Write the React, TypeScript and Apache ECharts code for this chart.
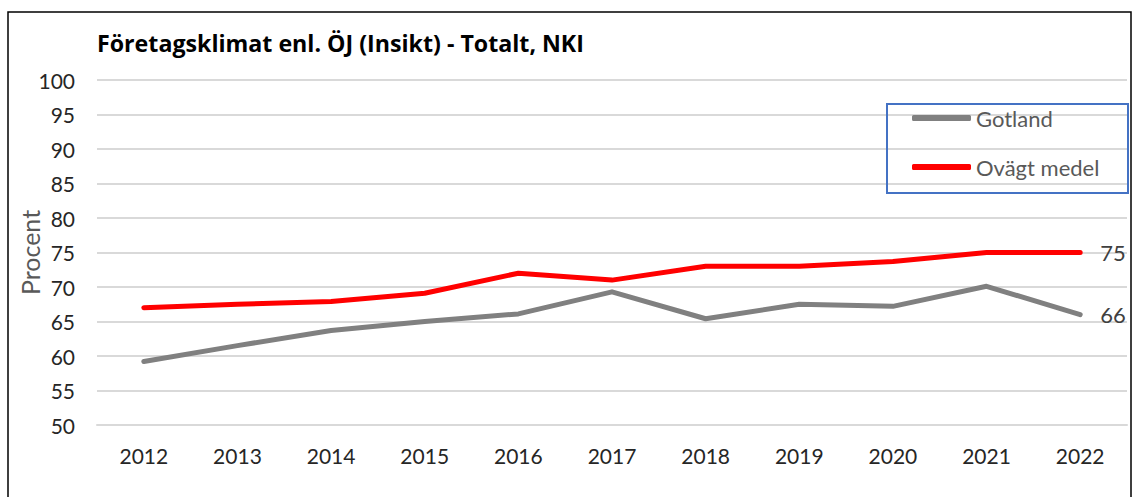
import React, { useEffect, useRef } from "react";
import * as echarts from "echarts";

const years = ["2012", "2013", "2014", "2015", "2016", "2017", "2018", "2019", "2020", "2021", "2022"];
const gotland = [59.2, 61.5, 63.7, 65.0, 66.1, 69.3, 65.4, 67.5, 67.2, 70.1, 66.0];
const ovagtMedel = [67.0, 67.5, 67.9, 69.1, 72.0, 71.0, 73.0, 73.0, 73.7, 75.0, 75.0];
const seriesNames = ["Gotland", "Ovägt medel"];
const titleText = "Företagsklimat enl. ÖJ (Insikt) - Totalt, NKI";
const yAxisName = "Procent";

const FONT = "Lato, 'Open Sans', sans-serif";

export default function App() {
  const ref = useRef<HTMLDivElement>(null);
  useEffect(() => {
    if (!ref.current) return;
    const chart = echarts.init(ref.current, undefined, { renderer: "svg" });
    chart.setOption({
      animation: false,
      backgroundColor: "#ffffff",
      textStyle: { fontFamily: FONT },
      title: {
        text: titleText,
        left: 92,
        top: 26,
        textStyle: { fontFamily: "'Open Sans', sans-serif", fontSize: 23.2, fontWeight: "bold", color: "#000000" },
      },
      graphic: [
        {
          type: "rect",
          shape: { x: 8, y: 12, width: 1123, height: 500 },
          style: { fill: "none", stroke: "#000000", lineWidth: 1.5 },
          silent: true,
        },
        {
          type: "rect",
          shape: { x: 887, y: 104, width: 241, height: 89 },
          style: { fill: "none", stroke: "#4472C4", lineWidth: 2 },
          silent: true,
          z: 10,
        },
      ],
      legend: {
        orient: "vertical",
        left: 912,
        top: 106,
        padding: 0,
        itemGap: 25,
        itemWidth: 59,
        itemHeight: 6,
        icon: "roundRect",
        textStyle: { fontFamily: FONT, fontSize: 22, color: "#595959", lineHeight: 24 },
        data: seriesNames,
      },
      grid: { left: 97, right: 7, top: 80, bottom: 72, containLabel: false },
      xAxis: {
        type: "category",
        data: years,
        boundaryGap: true,
        axisTick: { show: false },
        axisLine: { show: true, lineStyle: { color: "#d9d9d9", width: 2 } },
        axisLabel: { margin: 20, fontFamily: FONT, fontSize: 21, color: "#262626" },
      },
      yAxis: {
        type: "value",
        min: 50,
        max: 100,
        interval: 5,
        name: yAxisName,
        nameLocation: "middle",
        nameGap: 55,
        nameMoveOverlap: false,
        nameTextStyle: { fontFamily: FONT, fontSize: 25, color: "#595959" },
        axisLine: { show: false },
        axisTick: { show: false },
        splitLine: { lineStyle: { color: "#d9d9d9", width: 2 } },
        axisLabel: { margin: 22, fontFamily: FONT, fontSize: 21, color: "#262626" },
      },
      series: [
        {
          name: seriesNames[0],
          type: "line",
          data: gotland,
          symbol: "none",
          lineStyle: { color: "#808080", width: 5, cap: "round", join: "round" },
          itemStyle: { color: "#808080" },
          endLabel: {
            show: true,
            distance: 20,
            formatter: (p: any) => String(Math.round(p.value)),
            fontFamily: FONT,
            fontSize: 22,
            color: "#404040",
          },
        },
        {
          name: seriesNames[1],
          type: "line",
          data: ovagtMedel,
          symbol: "none",
          lineStyle: { color: "#ff0000", width: 5, cap: "round", join: "round" },
          itemStyle: { color: "#ff0000" },
          endLabel: {
            show: true,
            distance: 20,
            formatter: (p: any) => String(Math.round(p.value)),
            fontFamily: FONT,
            fontSize: 22,
            color: "#404040",
          },
        },
      ],
    });
    return () => chart.dispose();
  }, []);
  return (
    <div
      ref={ref}
      style={{ position: "absolute", left: 0, top: 0, width: 1134, height: 497 }}
    />
  );
}
